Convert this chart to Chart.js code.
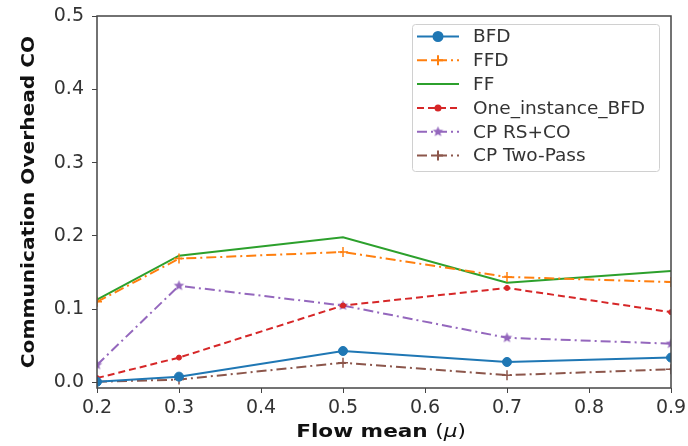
<!DOCTYPE html>
<html>
<head>
<meta charset="utf-8">
<script src="https://cdn.jsdelivr.net/npm/chart.js@4"></script>
<style>
  html, body { margin: 0; padding: 0; background: #fff; }
  #wrap { width: 688px; height: 446px; position: relative; }
</style>
</head>
<body>
<div id="wrap"><canvas id="chart"></canvas></div>
<script>
// Data
var flowMeans = [0.2, 0.3, 0.5, 0.7, 0.9];
var bfd = [0.001, 0.008, 0.043, 0.028, 0.034];
var ffd = [0.110, 0.169, 0.178, 0.144, 0.137];
var ff = [0.113, 0.173, 0.198, 0.136, 0.152];
var oneInstanceBfd = [0.006, 0.034, 0.105, 0.129, 0.096];
var cpRsCo = [0.024, 0.132, 0.105, 0.061, 0.053];
var cpTwoPass = [0.001, 0.004, 0.027, 0.010, 0.018];
var xTicks = [0.2, 0.3, 0.4, 0.5, 0.6, 0.7, 0.8, 0.9];
var yTicks = [0.0, 0.1, 0.2, 0.3, 0.4, 0.5];

var FONT = "'DejaVu Sans', sans-serif";
var DASHED = [7, 4];
var DASHDOT = [10, 4, 2, 4];

function pts(ys) {
    return flowMeans.map(function(x, i) { return { x: x, y: ys[i] }; });
}

// filled star marker, like matplotlib '*'
function starMarker(color, r) {
    var c = document.createElement('canvas');
    var s = Math.ceil(r * 2 + 2);
    c.width = s;
    c.height = s;
    var g = c.getContext('2d');
    g.fillStyle = color;
    g.beginPath();
    for (var i = 0; i < 10; i++) {
        var rad = i % 2 === 0 ? r : r * 0.45;
        var a = -Math.PI / 2 + i * Math.PI / 5;
        var px = s / 2 + rad * Math.cos(a);
        var py = s / 2 + rad * Math.sin(a);
        if (i === 0) g.moveTo(px, py); else g.lineTo(px, py);
    }
    g.closePath();
    g.fill();
    return c;
}

function series(label, ys, color, dash, pointStyle, radius) {
    return {
        label: label,
        data: pts(ys),
        borderColor: color,
        backgroundColor: color,
        borderWidth: 2,
        borderDash: dash,
        pointStyle: pointStyle,
        pointRadius: radius,
        pointBorderWidth: pointStyle === 'cross' ? 1.5 : 1,
        pointBorderColor: color,
        pointBackgroundColor: color,
        tension: 0,
        fill: false
    };
}

var datasets = [
    series('BFD', bfd, '#1f77b4', [], 'circle', 4.5),
    series('FFD', ffd, '#ff7f0e', DASHDOT, 'cross', 5),
    series('FF', ff, '#2ca02c', [], false, 0),
    series('One_instance_BFD', oneInstanceBfd, '#d62728', DASHED, 'circle', 2.5),
    series('CP RS+CO', cpRsCo, '#9467bd', DASHDOT, starMarker('#9467bd', 5.5), 5),
    series('CP Two-Pass', cpTwoPass, '#8c564b', DASHDOT, 'cross', 5)
];

// draw text with a horizontal stretch factor
function stretchedText(ctx, parts, cx, cy, sx, rotate) {
    ctx.save();
    ctx.translate(cx, cy);
    if (rotate) ctx.rotate(-Math.PI / 2);
    ctx.scale(sx, 1);
    var total = 0;
    parts.forEach(function(p) { ctx.font = p.font; total += ctx.measureText(p.text).width; });
    var x = -total / 2;
    ctx.textBaseline = 'middle';
    ctx.textAlign = 'left';
    parts.forEach(function(p) {
        ctx.font = p.font;
        ctx.fillText(p.text, x, 0);
        x += ctx.measureText(p.text).width;
    });
    ctx.restore();
}

// matplotlib-style frame, axis titles and legend
var framePlugin = {
    id: 'frame',
    afterDraw: function(chart) {
        var ctx = chart.ctx;
        var a = chart.chartArea;
        ctx.save();
        ctx.strokeStyle = '#444';
        ctx.lineWidth = 1.5;
        ctx.setLineDash([]);
        ctx.strokeRect(a.left, a.top, a.right - a.left, a.bottom - a.top);

        // axis titles
        ctx.fillStyle = '#111';
        stretchedText(ctx, [
            { text: 'Flow mean ', font: 'bold 18px ' + FONT },
            { text: '(', font: '18px ' + FONT },
            { text: '\u03bc', font: 'italic 18px ' + FONT },
            { text: ')', font: '18px ' + FONT }
        ], (a.left + a.right) / 2 - 3, 432, 1.2, false);
        stretchedText(ctx, [
            { text: 'Communication Overhead CO', font: 'bold 18px ' + FONT }
        ], 29, 202, 1.12, true);

        // legend box
        var bx = 412.5, by = 24.5, bw = 247, bh = 147;
        ctx.fillStyle = 'rgba(255,255,255,0.9)';
        ctx.strokeStyle = '#d0d0d0';
        ctx.lineWidth = 1;
        ctx.beginPath();
        if (ctx.roundRect) {
            ctx.roundRect(bx, by, bw, bh, 3);
        } else {
            ctx.rect(bx, by, bw, bh);
        }
        ctx.fill();
        ctx.stroke();

        ctx.font = '18.5px ' + FONT;
        ctx.textBaseline = 'middle';
        chart.data.datasets.forEach(function(ds, i) {
            var y = 36.5 + i * 23.8;
            ctx.strokeStyle = ds.borderColor;
            ctx.lineWidth = 2;
            ctx.setLineDash(ds.borderDash);
            ctx.beginPath();
            ctx.moveTo(417, y);
            ctx.lineTo(459, y);
            ctx.stroke();
            ctx.setLineDash([]);
            if (ds.pointStyle && ds.pointRadius > 0) {
                ctx.fillStyle = ds.pointBackgroundColor;
                ctx.strokeStyle = ds.pointBorderColor;
                Chart.helpers.drawPoint(ctx, {
                    pointStyle: ds.pointStyle,
                    radius: ds.pointRadius,
                    borderWidth: ds.pointBorderWidth,
                    rotation: 0
                }, 438, y);
            }
            ctx.fillStyle = '#333';
            ctx.fillText(ds.label, 473, y + 1);
        });
        ctx.restore();
    }
};

var ctx = document.getElementById('chart').getContext('2d');

new Chart(ctx, {
    type: 'line',
    data: { datasets: datasets },
    options: {
        responsive: true,
        maintainAspectRatio: false,
        animation: false,
        layout: { padding: { left: 0, right: 17, top: 16, bottom: 0 } },
        plugins: {
            legend: { display: false },
            tooltip: { enabled: false }
        },
        scales: {
            x: {
                type: 'linear',
                min: 0.2,
                max: 0.9,
                afterBuildTicks: function(scale) {
                    scale.ticks = xTicks.map(function(v) { return { value: v }; });
                },
                afterFit: function(scale) {
                    scale.height = 58;
                    scale.paddingLeft = 0;
                    scale.paddingRight = 0;
                },
                grid: { drawOnChartArea: false, drawTicks: true, tickLength: 5, color: '#444' },
                border: { display: false },
                ticks: {
                    color: '#333',
                    font: { family: FONT, size: 19 },
                    padding: 4,
                    maxRotation: 0,
                    callback: function(v) { return v.toFixed(1); }
                }
            },
            y: {
                min: -0.0075,
                max: 0.5,
                afterBuildTicks: function(scale) {
                    scale.ticks = yTicks.map(function(v) { return { value: v }; });
                },
                afterFit: function(scale) {
                    scale.width = 97;
                    scale.paddingTop = 0;
                    scale.paddingBottom = 0;
                },
                grid: { drawOnChartArea: false, drawTicks: true, tickLength: 5, color: '#444' },
                border: { display: false },
                ticks: {
                    color: '#333',
                    font: { family: FONT, size: 19 },
                    padding: 8,
                    callback: function(v) { return v.toFixed(1); }
                }
            }
        }
    },
    plugins: [framePlugin]
});
</script>
</body>
</html>
